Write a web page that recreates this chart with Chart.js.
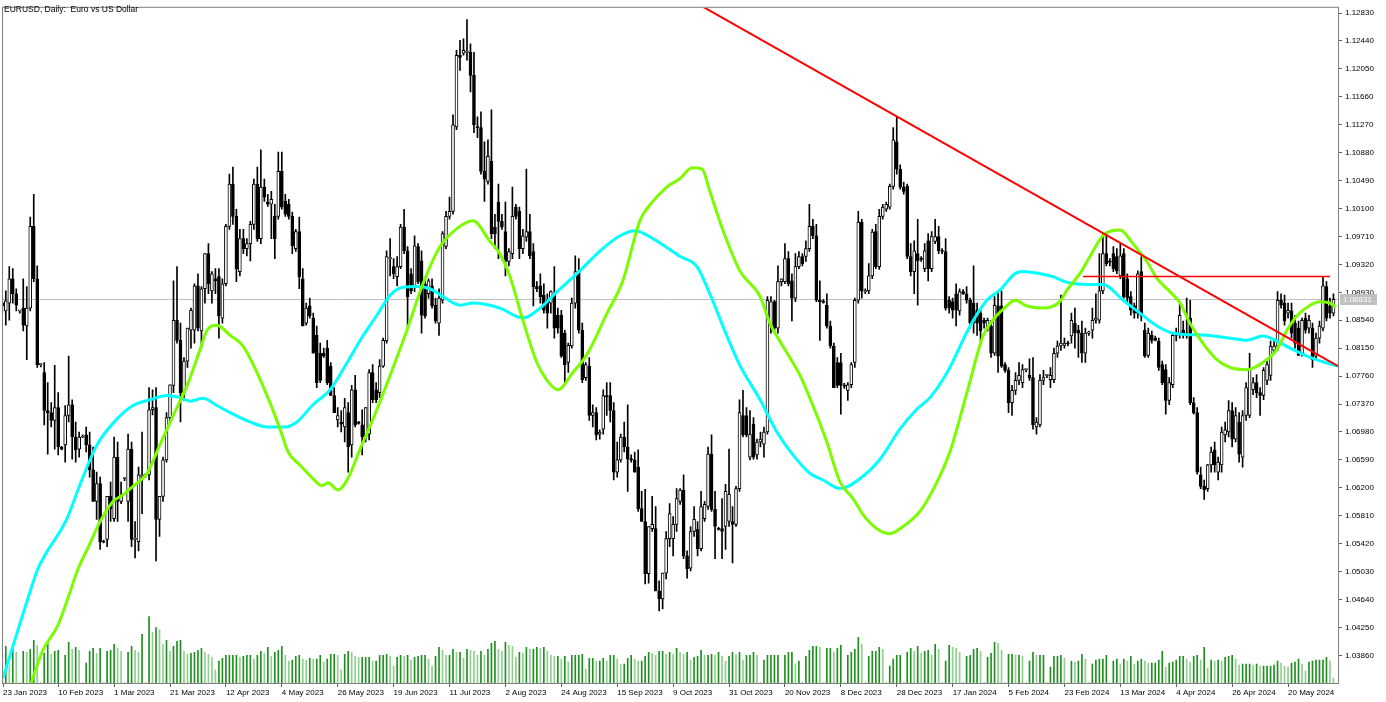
<!DOCTYPE html>
<html>
<head>
<meta charset="utf-8">
<title>EURUSD, Daily</title>
<script src="https://cdn.jsdelivr.net/npm/chart.js@4.4.1/dist/chart.umd.min.js"></script>
<style>
  html, body { margin: 0; padding: 0; background: #fff; }
  canvas { display: block; }
</style>
</head>
<body>
<canvas id="chart" width="1386" height="702"></canvas>
<script>
// EURUSD daily candles, one entry per bar (bar 0 = 23 Jan 2023)
const opens = [
1.0878,1.0867,1.0878,1.0912,1.0891,1.0867,1.0871,1.0846,1.0871,1.0985,
1.0912,1.0792,1.0781,1.0728,1.0725,1.0714,1.0732,1.0677,1.0680,1.0721,
1.0736,1.0691,1.0674,1.0691,1.0694,1.0680,1.0645,1.0601,1.0626,1.0545,
1.0548,1.0608,1.0577,1.0663,1.0601,1.0633,1.0601,1.0674,1.0548,1.0545,
1.0635,1.0638,1.0638,1.0729,1.0732,1.0576,1.0608,1.0659,1.0718,1.0763,
1.0854,1.0826,1.0753,1.0797,1.0840,1.0840,1.0902,1.0839,1.0898,1.0947,
1.0895,1.0912,1.0915,1.0857,1.0905,1.0985,1.1044,1.0999,1.0922,1.0968,
1.0954,1.0961,1.0988,1.1044,1.0968,1.1040,1.1019,1.1016,1.0999,1.0999,
1.1062,1.1020,1.1016,1.0999,1.0954,1.0978,1.0912,1.0850,1.0874,1.0857,
1.0833,1.0808,1.0808,1.0815,1.0790,1.0749,1.0715,1.0712,1.0705,1.0725,
1.0680,1.0757,1.0712,1.0708,1.0691,1.0695,1.0781,1.0757,1.0753,1.0790,
1.0825,1.0940,1.0929,1.0915,1.0929,1.0984,1.0951,1.0919,1.0901,1.0957,
1.0937,1.0905,1.0891,1.0902,1.0875,1.0850,1.0882,1.0957,1.0999,1.1006,
1.1124,1.1224,1.1227,1.1228,1.1228,1.1196,1.1124,1.1123,1.1062,1.1048,
1.1076,1.0984,1.1019,1.0992,1.0978,1.0936,1.0947,1.1012,1.1006,1.0954,
1.0970,1.0978,1.0950,1.0901,1.0902,1.0889,1.0881,1.0878,1.0891,1.0861,
1.0861,1.0836,1.0795,1.0818,1.0878,1.0922,1.0840,1.0774,1.0790,1.0721,
1.0725,1.0695,1.0702,1.0749,1.0749,1.0728,1.0642,1.0659,1.0691,1.0677,
1.0660,1.0659,1.0649,1.0591,1.0573,1.0500,1.0563,1.0563,1.0476,1.0465,
1.0501,1.0549,1.0549,1.0569,1.0601,1.0617,1.0525,1.0508,1.0559,1.0562,
1.0535,1.0577,1.0594,1.0667,1.0590,1.0563,1.0563,1.0566,1.0573,1.0573,
1.0569,1.0619,1.0721,1.0721,1.0663,1.0709,1.0666,1.0684,1.0681,1.0698,
1.0846,1.0880,1.0843,1.0908,1.0908,1.0940,1.0909,1.0885,1.0929,1.0943,
1.0943,1.0954,1.0985,1.0972,1.0882,1.0880,1.0875,1.0846,1.0818,1.0795,
1.0795,1.0763,1.0756,1.0764,1.0795,1.0882,1.0991,1.0894,1.0895,1.0916,
1.0978,1.0929,1.0999,1.1009,1.1012,1.1041,1.1103,1.1065,1.1040,1.1041,
1.0943,1.0922,1.0947,1.0940,1.0926,1.0965,1.0926,1.0964,1.0971,1.0951,
1.0950,1.0882,1.0880,1.0891,1.0867,1.0894,1.0891,1.0882,1.0878,1.0868,
1.0864,1.0854,1.0843,1.0846,1.0808,1.0874,1.0874,1.0792,1.0784,1.0739,
1.0756,1.0770,1.0767,1.0785,1.0777,1.0774,1.0705,1.0708,1.0770,1.0777,
1.0771,1.0771,1.0808,1.0818,1.0819,1.0822,1.0832,1.0850,1.0840,1.0836,
1.0808,1.0836,1.0840,1.0854,1.0854,1.0895,1.0947,1.0936,1.0947,1.0943,
1.0916,1.0947,1.0912,1.0887,1.0874,1.0864,1.0922,1.0840,1.0805,1.0833,
1.0829,1.0825,1.0792,1.0785,1.0742,1.0764,1.0833,1.0836,1.0840,1.0833,
1.0857,1.0739,1.0725,1.0638,1.0622,1.0619,1.0652,1.0673,1.0642,1.0652,
1.0694,1.0698,1.0728,1.0688,1.0712,1.0663,1.0721,1.0721,1.0757,1.0767,
1.0753,1.0749,1.0770,1.0777,1.0812,1.0818,1.0882,1.0878,1.0864,1.0867,
1.0850,1.0843,1.0808,1.0857,1.0843,1.0843,1.0804,1.0829,1.0843,1.0901,
1.0874,1.0864
];
const highs = [
1.0885,1.0895,1.0929,1.0926,1.0898,1.0868,1.0912,1.0901,1.0998,1.1030,
1.0930,1.0793,1.0795,1.0767,1.0739,1.0791,1.0753,1.0678,1.0735,1.0804,
1.0743,1.0712,1.0698,1.0694,1.0705,1.0698,1.0677,1.0642,1.0635,1.0547,
1.0608,1.0628,1.0691,1.0684,1.0628,1.0634,1.0695,1.0684,1.0573,1.0649,
1.0698,1.0639,1.0760,1.0757,1.0760,1.0608,1.0663,1.0725,1.0764,1.0909,
1.0929,1.0850,1.0802,1.0843,1.0871,1.0905,1.0919,1.0901,1.0947,1.0961,
1.0922,1.0926,1.0926,1.0912,1.0988,1.1058,1.1068,1.1009,1.0981,1.0981,
1.0968,1.0992,1.1051,1.1068,1.1092,1.1051,1.1030,1.1034,1.1016,1.1089,
1.1089,1.1030,1.1023,1.1005,1.0981,1.0998,1.0926,1.0878,1.0885,1.0864,
1.0846,1.0822,1.0815,1.0826,1.0795,1.0760,1.0732,1.0728,1.0745,1.0739,
1.0763,1.0777,1.0713,1.0729,1.0732,1.0785,1.0792,1.0767,1.0799,1.0829,
1.0951,1.0968,1.0940,1.0943,1.0988,1.1009,1.0957,1.0926,1.0972,1.0961,
1.0951,1.0912,1.0912,1.0912,1.0885,1.0898,1.0978,1.1006,1.1026,1.1141,
1.1231,1.1245,1.1247,1.1274,1.1240,1.1228,1.1138,1.1145,1.1103,1.1106,
1.1148,1.1002,1.1044,1.1002,1.1019,1.0954,1.1040,1.1016,1.1012,1.0981,
1.1065,1.1002,1.0961,1.0908,1.0919,1.0905,1.0891,1.0895,1.0929,1.0871,
1.0868,1.0840,1.0822,1.0885,1.0944,1.0940,1.0850,1.0795,1.0802,1.0736,
1.0732,1.0701,1.0757,1.0767,1.0767,1.0739,1.0684,1.0695,1.0712,1.0736,
1.0666,1.0670,1.0673,1.0615,1.0618,1.0566,1.0608,1.0594,1.0490,1.0497,
1.0559,1.0598,1.0580,1.0619,1.0619,1.0638,1.0532,1.0566,1.0594,1.0573,
1.0615,1.0601,1.0677,1.0694,1.0615,1.0565,1.0605,1.0625,1.0674,1.0594,
1.0622,1.0743,1.0756,1.0732,1.0728,1.0718,1.0688,1.0698,1.0705,1.0887,
1.0887,1.0882,1.0930,1.0912,1.0961,1.0950,1.0919,1.0947,1.0950,1.0947,
1.0965,1.1016,1.0995,1.0988,1.0909,1.0883,1.0891,1.0853,1.0822,1.0802,
1.0808,1.0766,1.0767,1.0795,1.0885,1.1006,1.0995,1.0898,1.0933,1.0981,
1.0988,1.1009,1.1016,1.1019,1.1044,1.1123,1.1138,1.1071,1.1047,1.1044,
1.0961,1.0965,1.0995,1.0943,1.0961,1.0975,1.0978,1.0995,1.0985,1.0954,
1.0968,1.0887,1.0885,1.0905,1.0898,1.0897,1.0901,1.0885,1.0930,1.0878,
1.0871,1.0857,1.0857,1.0854,1.0887,1.0894,1.0895,1.0795,1.0788,1.0763,
1.0781,1.0795,1.0792,1.0786,1.0800,1.0802,1.0718,1.0778,1.0784,1.0778,
1.0788,1.0815,1.0825,1.0889,1.0829,1.0825,1.0864,1.0871,1.0847,1.0853,
1.0843,1.0839,1.0871,1.0891,1.0947,1.0975,1.0977,1.0940,1.0957,1.0954,
1.0961,1.0954,1.0919,1.0894,1.0878,1.0923,1.0943,1.0850,1.0843,1.0839,
1.0832,1.0829,1.0797,1.0792,1.0774,1.0836,1.0843,1.0878,1.0853,1.0885,
1.0882,1.0746,1.0732,1.0649,1.0631,1.0653,1.0677,1.0684,1.0663,1.0705,
1.0712,1.0742,1.0739,1.0732,1.0725,1.0728,1.0767,1.0808,1.0774,1.0778,
1.0760,1.0788,1.0797,1.0825,1.0825,1.0894,1.0891,1.0889,1.0878,1.0878,
1.0861,1.0853,1.0857,1.0864,1.0861,1.0850,1.0836,1.0853,1.0915,1.0908,
1.0885,1.0891
];
const lows = [
1.0864,1.0847,1.0854,1.0878,1.0867,1.0864,1.0839,1.0799,1.0867,1.0908,
1.0788,1.0789,1.0708,1.0667,1.0705,1.0674,1.0666,1.0673,1.0656,1.0712,
1.0660,1.0656,1.0663,1.0690,1.0670,1.0635,1.0601,1.0576,1.0534,1.0543,
1.0538,1.0573,1.0573,1.0573,1.0598,1.0630,1.0573,1.0538,1.0522,1.0532,
1.0584,1.0635,1.0631,1.0722,1.0518,1.0552,1.0601,1.0656,1.0712,1.0753,
1.0822,1.0712,1.0742,1.0788,1.0815,1.0822,1.0839,1.0815,1.0878,1.0891,
1.0878,1.0891,1.0829,1.0850,1.0902,1.0981,1.0988,1.0908,1.0916,1.0947,
1.0944,1.0937,1.0981,1.0964,1.0961,1.1020,1.1013,1.0968,1.0940,1.0995,
1.1009,1.0999,1.0995,1.0947,1.0950,1.0898,1.0846,1.0847,1.0857,1.0808,
1.0760,1.0767,1.0802,1.0764,1.0749,1.0725,1.0705,1.0698,1.0684,1.0642,
1.0663,1.0705,1.0709,1.0666,1.0684,1.0687,1.0739,1.0739,1.0746,1.0788,
1.0822,1.0916,1.0912,1.0902,1.0926,1.0947,1.0843,1.0891,1.0894,1.0905,
1.0836,1.0857,1.0885,1.0871,1.0850,1.0833,1.0878,1.0954,1.0995,1.1002,
1.1120,1.1203,1.1224,1.1217,1.1173,1.1116,1.1109,1.1058,1.1020,1.1044,
1.0968,1.0954,1.0940,1.0981,1.0916,1.0930,1.0940,1.0995,1.0940,1.0947,
1.0964,1.0940,1.0874,1.0894,1.0878,1.0864,1.0843,1.0864,1.0829,1.0836,
1.0802,1.0767,1.0781,1.0815,1.0871,1.0836,1.0767,1.0770,1.0714,1.0705,
1.0687,1.0688,1.0695,1.0721,1.0712,1.0631,1.0635,1.0656,1.0670,1.0615,
1.0656,1.0642,1.0587,1.0573,1.0486,1.0487,1.0559,1.0476,1.0448,1.0451,
1.0493,1.0538,1.0525,1.0559,1.0597,1.0521,1.0494,1.0504,1.0552,1.0525,
1.0532,1.0573,1.0590,1.0587,1.0521,1.0561,1.0521,1.0534,1.0566,1.0515,
1.0566,1.0615,1.0691,1.0691,1.0659,1.0660,1.0660,1.0677,1.0663,1.0695,
1.0836,1.0840,1.0836,1.0902,1.0905,1.0902,1.0853,1.0880,1.0926,1.0930,
1.0936,1.0950,1.0968,1.0880,1.0826,1.0878,1.0843,1.0815,1.0760,1.0760,
1.0723,1.0759,1.0742,1.0760,1.0788,1.0878,1.0885,1.0891,1.0891,1.0912,
1.0926,1.0925,1.0995,1.1006,1.1009,1.1037,1.1058,1.1037,1.1030,1.0940,
1.0916,1.0891,1.0875,1.0936,1.0922,1.0909,1.0922,1.0961,1.0947,1.0947,
1.0868,1.0864,1.0857,1.0846,1.0861,1.0890,1.0878,1.0843,1.0836,1.0833,
1.0822,1.0843,1.0839,1.0802,1.0805,1.0781,1.0788,1.0781,1.0725,1.0721,
1.0750,1.0764,1.0760,1.0782,1.0770,1.0702,1.0695,1.0705,1.0764,1.0774,
1.0760,1.0767,1.0802,1.0812,1.0815,1.0818,1.0822,1.0815,1.0802,1.0795,
1.0795,1.0833,1.0829,1.0850,1.0850,1.0891,1.0930,1.0930,1.0922,1.0919,
1.0912,1.0885,1.0880,1.0861,1.0857,1.0857,1.0853,1.0802,1.0802,1.0822,
1.0825,1.0784,1.0764,1.0723,1.0736,1.0760,1.0825,1.0829,1.0829,1.0829,
1.0736,1.0723,1.0639,1.0619,1.0604,1.0615,1.0642,1.0642,1.0631,1.0642,
1.0684,1.0691,1.0677,1.0684,1.0656,1.0649,1.0714,1.0718,1.0750,1.0746,
1.0721,1.0743,1.0764,1.0770,1.0808,1.0812,1.0871,1.0847,1.0857,1.0829,
1.0815,1.0805,1.0804,1.0836,1.0836,1.0788,1.0799,1.0822,1.0839,1.0853,
1.0857,1.0860
];
const closes = [
1.0874,1.0881,1.0912,1.0891,1.0875,1.0867,1.0847,1.0871,1.0985,1.0912,
1.0792,1.0792,1.0728,1.0725,1.0714,1.0732,1.0677,1.0674,1.0721,1.0736,
1.0691,1.0673,1.0691,1.0692,1.0680,1.0645,1.0601,1.0626,1.0545,1.0544,
1.0608,1.0591,1.0663,1.0601,1.0608,1.0633,1.0674,1.0548,1.0549,1.0638,
1.0638,1.0638,1.0729,1.0732,1.0576,1.0608,1.0659,1.0718,1.0764,1.0854,
1.0826,1.0753,1.0797,1.0843,1.0868,1.0902,1.0843,1.0898,1.0947,1.0905,
1.0919,1.0909,1.0860,1.0905,1.0985,1.1044,1.0999,1.0926,1.0968,1.0954,
1.0961,1.0988,1.1044,1.0968,1.1040,1.1026,1.1016,1.1023,1.0968,1.1062,
1.1012,1.1002,1.0999,1.0958,1.0978,1.0915,1.0846,1.0871,1.0860,1.0808,
1.0767,1.0770,1.0804,1.0767,1.0749,1.0725,1.0721,1.0709,1.0732,1.0677,
1.0757,1.0708,1.0710,1.0691,1.0732,1.0781,1.0743,1.0743,1.0790,1.0826,
1.0943,1.0940,1.0919,1.0929,1.0984,1.0951,1.0887,1.0895,1.0958,1.0908,
1.0861,1.0860,1.0909,1.0874,1.0853,1.0885,1.0975,1.0999,1.1006,1.1127,
1.1224,1.1221,1.1231,1.1229,1.1196,1.1127,1.1123,1.1062,1.1051,1.1083,
1.0975,1.0975,1.0992,1.0984,1.0936,1.0950,1.0999,1.0999,1.0954,1.0972,
1.0978,1.0944,1.0901,1.0898,1.0887,1.0868,1.0864,1.0894,1.0843,1.0843,
1.0804,1.0792,1.0819,1.0878,1.0922,1.0840,1.0771,1.0792,1.0721,1.0725,
1.0694,1.0698,1.0749,1.0747,1.0728,1.0642,1.0659,1.0691,1.0677,1.0660,
1.0659,1.0642,1.0591,1.0573,1.0500,1.0566,1.0569,1.0476,1.0465,1.0501,
1.0549,1.0584,1.0569,1.0605,1.0617,1.0525,1.0507,1.0559,1.0576,1.0535,
1.0594,1.0597,1.0667,1.0590,1.0566,1.0562,1.0559,1.0615,1.0611,1.0569,
1.0619,1.0725,1.0694,1.0694,1.0695,1.0663,1.0684,1.0688,1.0698,1.0882,
1.0880,1.0843,1.0908,1.0912,1.0940,1.0905,1.0885,1.0929,1.0943,1.0933,
1.0954,1.0985,1.0972,1.0882,1.0880,1.0879,1.0846,1.0818,1.0760,1.0763,
1.0763,1.0762,1.0764,1.0792,1.0882,1.0991,1.0895,1.0895,1.0916,1.0977,
1.0929,1.0999,1.1012,1.1016,1.1041,1.1106,1.1065,1.1040,1.1034,1.0943,
1.0922,1.0951,1.0937,1.0939,1.0951,1.0926,1.0971,1.0971,1.0951,1.0950,
1.0871,1.0871,1.0868,1.0868,1.0894,1.0891,1.0882,1.0850,1.0850,1.0850,
1.0839,1.0850,1.0854,1.0808,1.0875,1.0804,1.0790,1.0784,1.0739,1.0756,
1.0770,1.0777,1.0785,1.0785,1.0774,1.0708,1.0712,1.0770,1.0774,1.0777,
1.0777,1.0808,1.0818,1.0822,1.0822,1.0821,1.0854,1.0836,1.0836,1.0808,
1.0836,1.0836,1.0854,1.0857,1.0895,1.0947,1.0933,1.0935,1.0926,1.0923,
1.0944,1.0887,1.0885,1.0868,1.0864,1.0919,1.0860,1.0804,1.0836,1.0826,
1.0826,1.0788,1.0767,1.0742,1.0767,1.0833,1.0836,1.0861,1.0836,1.0836,
1.0739,1.0725,1.0642,1.0622,1.0617,1.0652,1.0670,1.0652,1.0656,1.0698,
1.0701,1.0728,1.0688,1.0721,1.0667,1.0721,1.0760,1.0785,1.0767,1.0753,
1.0749,1.0784,1.0792,1.0818,1.0818,1.0882,1.0875,1.0853,1.0868,1.0836,
1.0822,1.0805,1.0854,1.0840,1.0854,1.0799,1.0829,1.0846,1.0902,1.0857,
1.0864,1.08831
];
// tick volume, thousands
const volumesK = [
60,74,34,70,62,1,64,62,68,86, 76,1,60,80,58,64,66,1,56,82,
68,72,66,1,40,64,70,60,70,1, 64,66,78,70,64,1,62,74,66,62,
98,1,134,102,112,108,78,86,64,74, 84,86,64,58,60,62,66,70,62,58,
52,26,44,50,56,56,56,56,52,54, 56,56,48,56,64,60,72,54,62,66,
74,56,44,46,54,56,48,46,50,48, 48,56,42,48,58,58,56,26,58,64,
62,54,52,52,52,52,44,44,56,56, 58,54,34,52,56,54,56,46,52,54,
56,56,48,34,54,72,66,56,56,68, 62,62,50,68,66,64,56,64,56,68,
80,84,68,64,82,76,74,52,62,60, 72,68,68,72,70,72,64,56,54,54,
48,54,42,56,56,56,58,28,50,50, 44,44,50,44,56,56,48,38,38,50,
56,48,44,44,54,62,60,56,64,64, 58,62,58,70,62,58,62,46,52,54,
66,56,56,58,56,62,54,44,54,62, 58,62,46,56,56,62,56,1,46,56,
56,56,56,1,56,62,62,38,44,2, 54,66,74,74,72,1,70,70,62,70,
76,1,56,62,68,92,78,1,54,64, 64,72,68,1,34,48,56,56,1,62,
70,64,74,60,64,66,56,78,68,1, 44,76,72,70,62,1,54,56,68,70,
64,1,52,60,82,80,66,1,58,58, 56,56,54,1,44,62,56,56,56,1,
32,54,54,56,50,1,44,42,44,58, 48,1,38,46,48,48,56,1,44,48,
38,48,44,54,38,44,48,44,40,40, 40,46,64,32,40,42,46,54,54,48,
42,54,56,46,72,30,46,44,46,44, 52,54,56,48,36,38,38,38,36,38,
34,34,34,34,36,44,40,34,32,40, 42,48,38,24,42,44,46,46,46,52,
44,10
];

// moving averages (bar position, price)
const maCyanBars = [0.2,7.1,10.2,18.5,22.2,27.1,32.8,37.4,42.3,47.1,50.9,53.7,57.4,61.4,65.2,70.9,75.8,80.9,84.3,88.9,
  93.8,98.7,103.2,107.2,111.0,114.7,118.7,122.4,126.1,131.0,134.7,142.4,149.0,153.9,158.8,165.3,171.1,176.8,181.1,186.2,
  194.0,198.8,202.5,207.4,211.1,216.9,221.7,226.3,231.2,234.9,239.8,245.5,251.2,256.9,261.8,265.5,270.4,277.0,281.8,285.5,
  289.8,292.1,297.0,300.7,304.7,310.4,315.0,320.8,325.6,330.5,335.1,344.8,351.4,356.2,360.8,364.8,368.6,373.4,378.0,382.3];
const maCyanValues = [1.0354,1.0462,1.0507,1.0577,1.0624,1.0680,1.0716,1.0735,1.0743,1.0749,1.0746,1.0741,1.0745,1.0735,1.0725,1.0712,1.0705,1.0705,1.0712,1.0736,
  1.0757,1.0795,1.0832,1.0861,1.0889,1.0900,1.0901,1.0898,1.0887,1.0875,1.0878,1.0871,1.0857,1.0871,1.0894,1.0923,1.0951,1.0972,1.0979,1.0968,
  1.0943,1.0929,1.0891,1.0832,1.0791,1.0743,1.0698,1.0666,1.0640,1.0631,1.0619,1.0633,1.0660,1.0702,1.0730,1.0746,1.0781,1.0846,1.0882,1.0896,
  1.0919,1.0922,1.0919,1.0915,1.0907,1.0904,1.0904,1.0882,1.0864,1.0846,1.0836,1.0833,1.0829,1.0826,1.0832,1.0825,1.0815,1.0804,1.0796,1.0790];
const maGreenBars = [8.2,11.6,15.9,18.5,21.7,24.5,28.0,31.7,34.5,37.4,41.4,45.1,48.9,52.9,56.6,58.6,61.4,65.2,68.9,72.9,
  76.6,79.5,81.8,85.2,88.9,91.5,93.2,96.1,98.9,102.4,106.1,111.0,115.8,120.4,125.3,130.1,134.7,139.6,142.4,145.3,
  149.0,153.0,155.9,159.0,163.3,167.3,173.1,177.6,182.5,186.2,190.2,194.0,197.4,200.3,202.5,206.3,211.1,216.9,219.7,223.4,
  228.3,232.0,236.0,239.8,243.5,246.3,250.3,254.1,257.8,262.6,266.9,271.2,276.1,280.7,283.5,287.5,289.8,293.3,297.9,302.7,
  304.7,308.4,311.3,315.0,319.9,323.6,327.6,330.5,334.2,337.1,339.9,343.6,347.6,351.4,356.2,360.8,364.8,367.7,370.5,374.3,
  377.1,380.0,381.7];
const maGreenValues = [1.0347,1.0393,1.0428,1.0462,1.0507,1.0536,1.0573,1.0601,1.0610,1.0622,1.0640,1.0680,1.0721,1.0763,1.0813,1.0840,1.0847,1.0833,1.0818,1.0781,
  1.0739,1.0702,1.0670,1.0652,1.0633,1.0623,1.0627,1.0617,1.0633,1.0674,1.0716,1.0777,1.0840,1.0905,1.0957,1.0982,1.0993,1.0964,1.0947,1.0915,
  1.0854,1.0795,1.0770,1.0757,1.0781,1.0806,1.0864,1.0909,1.0993,1.1020,1.1040,1.1052,1.1067,1.1065,1.1034,1.0979,1.0923,1.0887,1.0850,1.0818,
  1.0777,1.0735,1.0684,1.0628,1.0605,1.0583,1.0563,1.0556,1.0566,1.0587,1.0622,1.0670,1.0753,1.0832,1.0854,1.0874,1.0882,1.0874,1.0871,1.0880,
  1.0896,1.0919,1.0943,1.0972,1.0980,1.0961,1.0936,1.0912,1.0894,1.0878,1.0850,1.0822,1.0799,1.0788,1.0785,1.0795,1.0813,1.0840,1.0860,1.0875,
  1.0880,1.0878,1.0872];

// drawn objects: falling trendline and horizontal resistance
const trendBars = [195, 382.3];
const trendValues = [1.1307, 1.0790];
const levelBars = [309.3, 380.0];
const levelValues = [1.0915, 1.0915];
const bidPrice = 1.08831;

const tickBars = [0.2,16,32,48,64,80,96,112,128,144,160,176,192,208,224,240,256,272,288,304,320,336,352,368];
const tickLabels = ['23 Jan 2023','10 Feb 2023','1 Mar 2023','21 Mar 2023','12 Apr 2023','4 May 2023','26 May 2023',
  '19 Jun 2023','11 Jul 2023','2 Aug 2023','24 Aug 2023','15 Sep 2023','9 Oct 2023','31 Oct 2023','20 Nov 2023',
  '8 Dec 2023','28 Dec 2023','17 Jan 2024','5 Feb 2024','23 Feb 2024','13 Mar 2024','4 Apr 2024','26 Apr 2024','20 May 2024'];
const priceTicks = [1.03860,1.04250,1.04640,1.05030,1.05420,1.05810,1.06200,1.06590,1.06980,1.07370,1.07760,1.08150,
  1.08540,1.08930,1.09320,1.09710,1.10100,1.10490,1.10880,1.11270,1.11660,1.12050,1.12440,1.12830];

const FONT = '"Liberation Sans", Arial, sans-serif';

// ---- build datasets ----
const idx = closes.map((_, i) => i);
const wickData = idx.map(i => ({ x: i, y: [Math.min(lows[i], opens[i], closes[i]), Math.max(highs[i], opens[i], closes[i])] }));
const bodyData = idx.map(i => ({ x: i, y: [opens[i], closes[i]] }));
const bodyFill = idx.map(i => closes[i] >= opens[i] ? '#ffffff' : '#000000');
const volData = idx.map(i => ({ x: i, y: volumesK[i] }));
const volColors = idx.map(i => (i > 0 && volumesK[i] < volumesK[i - 1]) ? '#8fcf8f' : '#1f8f1f');
const pts = (xs, ys) => xs.map((x, k) => ({ x, y: ys[k] }));

const chartDecor = {
  id: 'chartDecor',
  beforeDraw(chart) {
    const c = chart.ctx;
    c.save();
    c.fillStyle = '#ffffff';
    c.fillRect(0, 0, chart.width, chart.height);
    c.restore();
  },
  beforeDatasetsDraw(chart) {
    const c = chart.ctx, a = chart.chartArea;
    const y = Math.round(chart.scales.y.getPixelForValue(bidPrice)) + 0.5;
    c.save();
    c.strokeStyle = '#c0c0c0';
    c.lineWidth = 1;
    c.beginPath(); c.moveTo(a.left, y); c.lineTo(a.right, y); c.stroke();
    c.restore();
  },
  afterDraw(chart) {
    const c = chart.ctx, a = chart.chartArea;
    c.save();
    // frame
    c.strokeStyle = '#808080';
    c.lineWidth = 1;
    c.strokeRect(a.left - 0.5, a.top - 0.5, a.right - a.left + 1, a.bottom - a.top + 1);
    // title
    c.fillStyle = '#000';
    c.font = '8.5px ' + FONT;
    c.textBaseline = 'alphabetic';
    c.textAlign = 'left';
    c.fillText('EURUSD, Daily:  Euro vs US Dollar', 4, 12);
    // bid price label on the axis
    const y = Math.round(chart.scales.y.getPixelForValue(bidPrice));
    c.fillStyle = '#c0c0c0';
    c.fillRect(a.right + 2, y - 5, 37, 11);
    c.fillStyle = '#ffffff';
    c.font = '8px ' + FONT;
    c.textBaseline = 'middle';
    c.fillText(bidPrice.toFixed(5), a.right + 5, y + 0.5);
    c.restore();
  }
};

new Chart(document.getElementById('chart'), {
  type: 'bar',
  data: {
    datasets: [
      { type: 'line', data: pts(levelBars, levelValues), borderColor: '#ff0000', borderWidth: 1.5, pointRadius: 0, tension: 0, order: -2 },
      { type: 'line', data: pts(trendBars, trendValues), borderColor: '#ff0000', borderWidth: 2, pointRadius: 0, tension: 0, order: -1 },
      { type: 'line', data: pts(maGreenBars, maGreenValues), borderColor: '#7cfc00', borderWidth: 3, pointRadius: 0, cubicInterpolationMode: 'monotone', order: 0 },
      { type: 'line', data: pts(maCyanBars, maCyanValues), borderColor: '#00ffff', borderWidth: 3, pointRadius: 0, cubicInterpolationMode: 'monotone', order: 1 },
      { data: bodyData, backgroundColor: bodyFill, borderColor: '#000000', borderWidth: 1, borderSkipped: false, barThickness: 3, minBarLength: 1, grouped: false, order: 2 },
      { data: wickData, backgroundColor: '#000000', barThickness: 1, grouped: false, order: 3 },
      { data: volData, yAxisID: 'yv', backgroundColor: volColors, barThickness: 1, grouped: false, order: 4 }
    ]
  },
  options: {
    responsive: false,
    animation: false,
    devicePixelRatio: 1,
    layout: { padding: { left: 3, top: 2, right: 0, bottom: 0 } },
    plugins: { legend: { display: false }, tooltip: { enabled: false } },
    scales: {
      x: {
        type: 'linear', min: 0.2, max: 382.3, offset: false,
        border: { display: false },
        grid: { offset: false, drawOnChartArea: false, drawTicks: true, tickLength: 4, color: '#606060' },
        ticks: {
          autoSkip: false, maxRotation: 0, minRotation: 0, align: 'start', padding: 1,
          color: '#000', font: { family: FONT, size: 8 },
          callback: (v, i) => tickLabels[i]
        },
        afterBuildTicks: s => { s.ticks = tickBars.map(v => ({ value: v })); },
        afterFit: s => { s.height = 19; }
      },
      y: {
        position: 'right', min: 1.03475, max: 1.12903, beginAtZero: false,
        border: { display: false },
        grid: { drawOnChartArea: false, drawTicks: true, tickLength: 4, color: '#606060' },
        ticks: { padding: 3, color: '#000', font: { family: FONT, size: 8 }, callback: v => v.toFixed(5) },
        afterBuildTicks: s => { s.ticks = priceTicks.map(v => ({ value: v })); },
        afterFit: s => { s.width = 48; }
      },
      yv: { display: false, min: 0, max: 1362, beginAtZero: true }
    }
  },
  plugins: [chartDecor]
});
</script>
</body>
</html>
